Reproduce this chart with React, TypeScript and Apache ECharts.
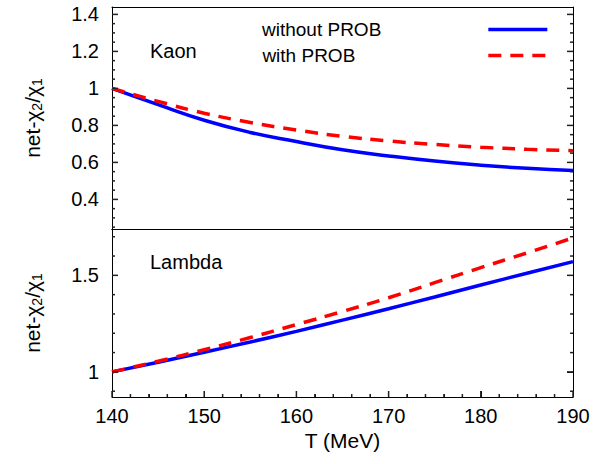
import React, { useEffect, useRef } from "react";
import * as echarts from "echarts";

const temps = [140, 145, 150, 155, 160, 165, 170, 175, 180, 185, 190];
const kaonWithout = [1.0, 0.912, 0.828, 0.762, 0.713, 0.668, 0.635, 0.607, 0.585, 0.568, 0.556];
const kaonWith = [1.0, 0.93, 0.866, 0.816, 0.775, 0.741, 0.716, 0.697, 0.682, 0.671, 0.663];
const lambdaWithout = [1.0, 1.05, 1.102, 1.155, 1.21, 1.268, 1.327, 1.388, 1.45, 1.511, 1.571];
const lambdaWith = [1.0, 1.055, 1.115, 1.178, 1.245, 1.313, 1.384, 1.462, 1.54, 1.616, 1.694];

const xMajor = [140, 150, 160, 170, 180, 190];
const xMinor = [142, 144, 146, 148, 152, 154, 156, 158, 162, 164, 166, 168, 172, 174, 176, 178, 182, 184, 186, 188];
const kaonMajor = [0.4, 0.6, 0.8, 1.0, 1.2, 1.4];
const kaonMinor = [0.25, 0.3, 0.35, 0.45, 0.5, 0.55, 0.65, 0.7, 0.75, 0.85, 0.9, 0.95, 1.05, 1.1, 1.15, 1.25, 1.3, 1.35];
const lambdaMajor = [1.0, 1.5];
const lambdaMinor = [0.9, 1.1, 1.2, 1.3, 1.4, 1.6, 1.7];

const FONT = "'Liberation Sans', Arial, Helvetica, sans-serif";
const BLACK = "#000";

const X_MIN = 140;
const X_MAX = 190;
const KAON_MIN = 0.24;
const KAON_MAX = 1.44;
const LAMBDA_MIN = 0.87;
const LAMBDA_MAX = 1.74;

const pairs = (ys: number[]) => temps.map((t, i) => [t, ys[i]]);

export default function App() {
  const ref = useRef<HTMLDivElement>(null);
  useEffect(() => {
    document.body.style.margin = "0";
    const chart = echarts.init(ref.current!, undefined, { renderer: "svg" });

    const yName = {
      name: "net-χ{sub|2}/χ{sub|1}",
      nameLocation: "middle" as const,
      nameGap: 68,
      nameTextStyle: {
        fontSize: 21,
        fontFamily: FONT,
        color: BLACK,
        rich: {
          sub: { fontSize: 14, fontFamily: FONT, color: BLACK, padding: [10, 0, 0, 0] },
        },
      },
    };

    const yMain = (grid: number, min: number, max: number, major: number[], pos: "left" | "right", withLabels: boolean) => ({
      type: "value",
      gridIndex: grid,
      position: pos,
      min,
      max,
      splitLine: { show: false },
      axisLine: { show: true, onZero: false, lineStyle: { color: BLACK, width: 1 } },
      axisTick: { show: true, inside: true, length: 6, customValues: major, lineStyle: { color: BLACK, width: 1 } },
      axisLabel: withLabels
        ? {
            show: true,
            customValues: major,
            margin: 13,
            fontSize: 20,
            fontFamily: FONT,
            color: BLACK,
            formatter: (v: number) => String(+v.toFixed(2)),
          }
        : { show: false },
      ...(withLabels ? yName : {}),
    });

    const plainX = (grid: number, pos: "top" | "bottom", labels: boolean) => ({
      type: "value",
      gridIndex: grid,
      position: pos,
      min: X_MIN,
      max: X_MAX,
      interval: 10,
      splitLine: { show: false },
      axisLine: { show: true, onZero: false, lineStyle: { color: BLACK, width: 1 } },
      axisTick: labels
        ? { show: true, inside: true, length: 6, lineStyle: { color: BLACK, width: 1 } }
        : { show: false },
      minorTick: labels
        ? { show: true, splitNumber: 5, length: 3, lineStyle: { color: BLACK, width: 1 } }
        : { show: false },
      axisLabel: labels ? { show: true, margin: 9, fontSize: 20, fontFamily: FONT, color: BLACK } : { show: false },
      ...(labels
        ? {
            name: "T (MeV)",
            nameLocation: "middle",
            nameGap: 33,
            nameTextStyle: { fontSize: 21, fontFamily: FONT, color: BLACK },
          }
        : {}),
    });

    // tick marks drawn through the axes' own scales (custom series)
    const tickSeries = (xIdx: number, yIdx: number, pts: number[][], dx: number, dy: number) => ({
      type: "custom",
      coordinateSystem: "cartesian2d",
      xAxisIndex: xIdx,
      yAxisIndex: yIdx,
      silent: true,
      z: 5,
      data: pts,
      renderItem: (_params: any, api: any) => {
        const p = api.coord([api.value(0), api.value(1)]);
        return {
          type: "line",
          shape: { x1: p[0], y1: p[1], x2: p[0] + dx, y2: p[1] + dy },
          style: { stroke: "#222", lineWidth: 1.5 },
        };
      },
    });

    const option = {
      animation: false,
      backgroundColor: "#fff",
      textStyle: { fontFamily: FONT },
      grid: [
        { left: 112, top: 7, width: 461, height: 222 },
        { left: 112, top: 229, width: 461, height: 168 },
      ],
      xAxis: [plainX(0, "bottom", false), plainX(1, "bottom", true), plainX(0, "top", false), plainX(1, "top", false)],
      yAxis: [
        yMain(0, KAON_MIN, KAON_MAX, kaonMajor, "left", true),
        yMain(0, KAON_MIN, KAON_MAX, kaonMajor, "right", false),
        yMain(1, LAMBDA_MIN, LAMBDA_MAX, lambdaMajor, "left", true),
        yMain(1, LAMBDA_MIN, LAMBDA_MAX, lambdaMajor, "right", false),
      ],
      legend: {
        orient: "vertical",
        left: 257,
        top: 15,
        align: "right",
        itemWidth: 59,
        itemHeight: 16,
        itemGap: 7,
        textStyle: { fontSize: 19, fontFamily: FONT, color: BLACK },
        itemStyle: { opacity: 0 },
        lineStyle: { width: 3.5 },
        data: [
          { name: "without PROB", textStyle: { padding: [0, 102, 0, 0] } },
          { name: "with PROB", textStyle: { padding: [0, 128, 0, 0] } },
        ],
      },
      graphic: [
        { type: "text", left: 150, top: 41, style: { text: "Kaon", fontSize: 20, fontFamily: FONT, fill: BLACK } },
        { type: "text", left: 150, top: 252, style: { text: "Lambda", fontSize: 20, fontFamily: FONT, fill: BLACK } },
      ],
      series: [
        tickSeries(0, 0, kaonMajor.map((v) => [X_MIN, v]), 6, 0),
        tickSeries(0, 0, kaonMinor.map((v) => [X_MIN, v]), 3, 0),
        tickSeries(0, 0, kaonMajor.map((v) => [X_MAX, v]), -6, 0),
        tickSeries(0, 0, kaonMinor.map((v) => [X_MAX, v]), -3, 0),
        tickSeries(1, 2, lambdaMajor.map((v) => [X_MIN, v]), 6, 0),
        tickSeries(1, 2, lambdaMinor.map((v) => [X_MIN, v]), 3, 0),
        tickSeries(1, 2, lambdaMajor.map((v) => [X_MAX, v]), -6, 0),
        tickSeries(1, 2, lambdaMinor.map((v) => [X_MAX, v]), -3, 0),
        tickSeries(1, 2, xMajor.map((t) => [t, LAMBDA_MIN]), 0, -6),
        tickSeries(1, 2, xMinor.map((t) => [t, LAMBDA_MIN]), 0, -3),
        {
          name: "without PROB",
          type: "line",
          xAxisIndex: 0,
          yAxisIndex: 0,
          data: pairs(kaonWithout),
          smooth: true,
          symbol: "none",
          lineStyle: { color: "#0000ff", width: 3.5 },
          itemStyle: { color: "#0000ff" },
          z: 3,
        },
        {
          name: "with PROB",
          type: "line",
          xAxisIndex: 0,
          yAxisIndex: 0,
          data: pairs(kaonWith),
          smooth: true,
          symbol: "none",
          lineStyle: { color: "#ff0000", width: 3.5, type: [13, 9] },
          itemStyle: { color: "#ff0000" },
          z: 4,
        },
        {
          name: "without PROB",
          type: "line",
          xAxisIndex: 1,
          yAxisIndex: 2,
          data: pairs(lambdaWithout),
          smooth: true,
          symbol: "none",
          lineStyle: { color: "#0000ff", width: 3.5 },
          itemStyle: { color: "#0000ff" },
          z: 3,
        },
        {
          name: "with PROB",
          type: "line",
          xAxisIndex: 1,
          yAxisIndex: 2,
          data: pairs(lambdaWith),
          smooth: true,
          symbol: "none",
          lineStyle: { color: "#ff0000", width: 3.5, type: [13, 9] },
          itemStyle: { color: "#ff0000" },
          z: 4,
        },
      ],
    };

    chart.setOption(option as any);
    return () => chart.dispose();
  }, []);

  return <div ref={ref} style={{ width: 605, height: 464 }} />;
}
